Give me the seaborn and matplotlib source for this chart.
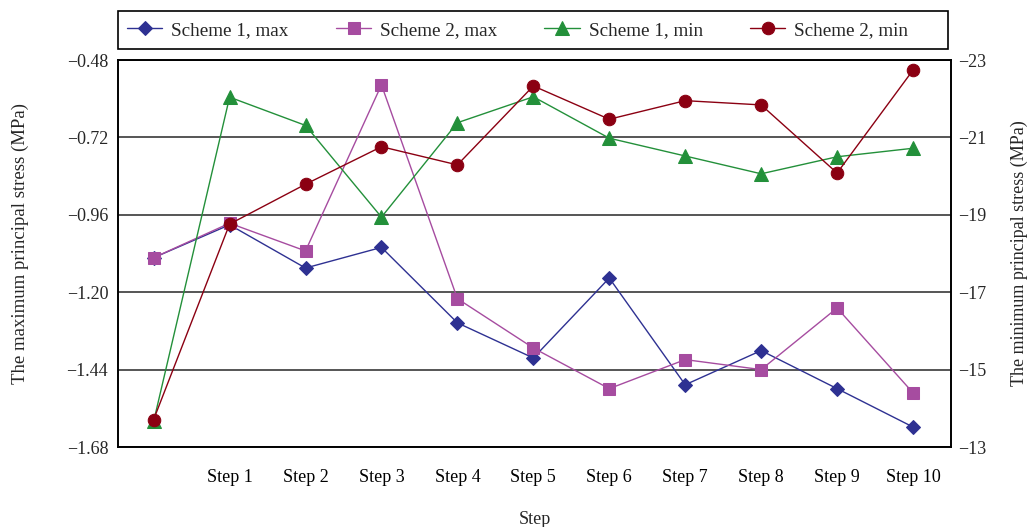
import pandas as pd
import matplotlib.pyplot as plt
import seaborn as sns
from matplotlib.patches import Rectangle

# values (position 0 = initial state, 1..10 = steps)
steps = list(range(11))
step_labels = ["Step 1", "Step 2", "Step 3", "Step 4", "Step 5",
               "Step 6", "Step 7", "Step 8", "Step 9", "Step 10"]
s1_max = [-1.093, -0.991, -1.125, -1.061, -1.295, -1.404, -1.156, -1.487, -1.381, -1.499, -1.618]
s2_max = [-1.093, -0.986, -1.072, -0.557, -1.220, -1.373, -1.499, -1.409, -1.440, -1.249, -1.512]
s1_min = [-13.66, -22.04, -21.31, -18.94, -21.38, -22.05, -20.98, -20.52, -20.06, -20.50, -20.72]
s2_min = [-13.71, -18.76, -19.79, -20.76, -20.29, -22.33, -21.47, -21.95, -21.84, -20.08, -22.74]

df = pd.DataFrame({"pos": steps, "s1_max": s1_max, "s2_max": s2_max,
                   "s1_min": s1_min, "s2_min": s2_min})

sns.set_style("white")
plt.rcParams["font.family"] = ["Liberation Serif", "DejaVu Serif"]
plt.rcParams["font.size"] = 13
plt.rcParams["axes.unicode_minus"] = True

fig = plt.figure(figsize=(10.32, 5.27), dpi=100)
ax = fig.add_axes([0.1143, 0.1518, 0.8072, 0.7343])
ax2 = ax.twinx()

blue, pink, green, red = "#2E3192", "#A64CA0", "#23903A", "#8B0012"

sns.lineplot(data=df, x="pos", y="s1_max", ax=ax, color=blue, lw=1,
             marker="D", markersize=7.5, markeredgecolor=blue, label="Scheme 1, max")
sns.lineplot(data=df, x="pos", y="s2_max", ax=ax, color=pink, lw=1,
             marker="s", markersize=8.5, markeredgecolor=pink, label="Scheme 2, max")
sns.lineplot(data=df, x="pos", y="s1_min", ax=ax2, color=green, lw=1,
             marker="^", markersize=9.5, markeredgecolor=green, label="Scheme 1, min")
sns.lineplot(data=df, x="pos", y="s2_min", ax=ax2, color=red, lw=1,
             marker="o", markersize=9, markeredgecolor=red, label="Scheme 2, min")

# left axis (maximum principal stress)
ax.set_ylim(-1.68, -0.48)
ax.set_yticks([-1.68, -1.44, -1.20, -0.96, -0.72, -0.48])
ax.set_yticklabels(["\u22121.68", "\u22121.44", "\u22121.20", "\u22120.96", "\u22120.72", "\u22120.48"])
ax.yaxis.grid(True, color="#383838", lw=1.2)
ax.set_axisbelow(True)
ax.set_xlim(-0.47, 10.5)
ax.set_xticks(steps[1:])
ax.set_xticklabels(step_labels)
ax.tick_params(axis="x", direction="in", length=6, width=1, pad=16, colors="black")
ax.tick_params(axis="y", direction="in", length=0, pad=7)
ax.set_xlabel("Step", labelpad=17.5)
ax.set_ylabel("The maximum principal stress (MPa)", labelpad=27, fontsize=13.5)
ax.yaxis.label.set_y(0.527)

# right axis (minimum principal stress), inverted
ax2.set_ylim(-13, -23)
ax2.set_yticks([-23, -21, -19, -17, -15, -13])
ax2.set_yticklabels(["\u221223", "\u221221", "\u221219", "\u221217", "\u221215", "\u221213"])
ax2.tick_params(axis="y", direction="in", length=0, pad=5)
ax2.set_ylabel("The minimum principal stress (MPa)", labelpad=18, fontsize=13)

for a in (ax, ax2):
    for sp in a.spines.values():
        sp.set_color("black")
        sp.set_linewidth(1.2)

h1, l1 = ax.get_legend_handles_labels()
h2, l2 = ax2.get_legend_handles_labels()
ax.get_legend().remove()
ax2.get_legend().remove()
ax2.legend(h1 + h2, l1 + l2, ncol=4, loc="center left",
           bbox_to_anchor=(127 / 1032, 1 - 30 / 527), bbox_transform=fig.transFigure,
           frameon=False, borderpad=0, borderaxespad=0,
           handlelength=1.85, handletextpad=0.47, columnspacing=2.45, fontsize=13.8)

# legend box, wider than its entries as in the reference
fig.patches.append(Rectangle((118 / 1032, 1 - 49 / 527), 830 / 1032, 38 / 527,
                             transform=fig.transFigure, fill=False,
                             edgecolor="black", lw=1.2))

fig.savefig("out.png", dpi=100)
